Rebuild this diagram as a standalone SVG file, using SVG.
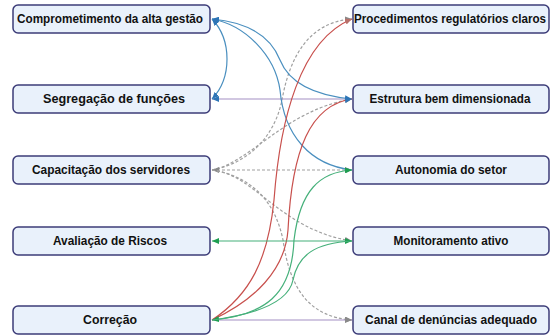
<svg xmlns="http://www.w3.org/2000/svg" width="554" height="335" viewBox="0 0 554 335">
<style>
.box{fill:#E9F1FB;stroke:#3C3C78;stroke-width:1.5}
.lbl{font-family:"Liberation Sans",Arial,sans-serif;font-size:12px;font-weight:bold;fill:#111;text-anchor:middle}
.c{fill:none;stroke-width:1.2}
.blue{stroke:#4A8FBF}
.red{stroke:#C8504D}
.green{stroke:#45B07A}
.purple{stroke:#A48FC4}
.gray{stroke:#A0A0A0;stroke-dasharray:3 2}
</style>
<defs>
<marker id="ab" markerUnits="userSpaceOnUse" markerWidth="8" markerHeight="6" refX="7" refY="3" orient="auto-start-reverse"><path d="M0,0 L7,3 L0,6 z" fill="#2E75B6"/></marker>
<marker id="ar" markerUnits="userSpaceOnUse" markerWidth="8" markerHeight="6" refX="7" refY="3" orient="auto-start-reverse"><path d="M0,0 L7,3 L0,6 z" fill="#B8706A"/></marker>
<marker id="ag" markerUnits="userSpaceOnUse" markerWidth="8" markerHeight="6" refX="7" refY="3" orient="auto-start-reverse"><path d="M0,0 L7,3 L0,6 z" fill="#1E9E50"/></marker>
<marker id="ay" markerUnits="userSpaceOnUse" markerWidth="8" markerHeight="6" refX="7" refY="3" orient="auto-start-reverse"><path d="M0,0 L7,3 L0,6 z" fill="#8A8A8A"/></marker>
</defs>
<g id="connectors">
<path class="c gray" d="M212,170 C250,163 275,135 282,100 C290,55 310,22 352,19" marker-end="url(#ay)"/>
<path class="c gray" d="M212,170 C250,163 285,110 352,99" marker-end="url(#ay)"/>
<path class="c gray" d="M212,170 L352,170" marker-start="url(#ay)" marker-end="url(#ay)"/>
<path class="c gray" d="M212,170 C255,174 280,230 352,241" marker-end="url(#ay)"/>
<path class="c gray" d="M212,170 C250,176 275,200 283,240 C290,290 310,317 352,320" marker-end="url(#ay)"/>
<path class="c purple" d="M352,99 L212,99" marker-end="url(#ab)"/>
<path class="c purple" d="M212,320 L352,320" marker-end="url(#ay)"/>
<path class="c blue" d="M212,19 C232,40 232,78 212,99" marker-start="url(#ab)" marker-end="url(#ab)"/>
<path class="c blue" d="M212,19 C245,22 270,35 280,60 C288,80 310,95 352,99" marker-start="url(#ab)" marker-end="url(#ab)"/>
<path class="c blue" d="M212,19 C245,25 275,55 280,90 C284,135 310,165 352,170" marker-start="url(#ab)"/>
<path class="c red" d="M212,320 C250,295 268,260 274,200 C280,120 300,40 352,19" marker-end="url(#ar)"/>
<path class="c red" d="M212,320 C255,300 285,270 288,230 C292,150 310,105 352,99" marker-end="url(#ab)"/>
<path class="c green" d="M212,241 L352,241" marker-start="url(#ag)" marker-end="url(#ag)"/>
<path class="c green" d="M352,241 C315,243 298,255 293,280 C288,305 250,315 212,320" marker-end="url(#ag)"/>
<path class="c green" d="M212,320 C265,315 292,295 294,240 C300,190 320,172 352,170" marker-end="url(#ag)"/>
</g>
<g id="n1"><rect class="box" x="13" y="5" width="197" height="28" rx="5"/><text class="lbl" x="110" y="23" textLength="186" lengthAdjust="spacingAndGlyphs">Comprometimento da alta gestão</text></g>
<g id="n2"><rect class="box" x="13" y="85" width="197" height="28" rx="5"/><text class="lbl" x="114" y="103" textLength="142" lengthAdjust="spacingAndGlyphs">Segregação de funções</text></g>
<g id="n3"><rect class="box" x="13" y="156" width="197" height="28" rx="5"/><text class="lbl" x="111" y="174" textLength="158" lengthAdjust="spacingAndGlyphs">Capacitação dos servidores</text></g>
<g id="n4"><rect class="box" x="13" y="227" width="197" height="28" rx="5"/><text class="lbl" x="110" y="245" textLength="114" lengthAdjust="spacingAndGlyphs">Avaliação de Riscos</text></g>
<g id="n5"><rect class="box" x="13" y="306" width="197" height="28" rx="5"/><text class="lbl" x="110" y="324" textLength="54" lengthAdjust="spacingAndGlyphs">Correção</text></g>
<g id="n6"><rect class="box" x="353" y="5" width="196" height="28" rx="5"/><text class="lbl" x="450" y="23" textLength="192" lengthAdjust="spacingAndGlyphs">Procedimentos regulatórios claros</text></g>
<g id="n7"><rect class="box" x="353" y="85" width="196" height="28" rx="5"/><text class="lbl" x="450" y="103" textLength="161" lengthAdjust="spacingAndGlyphs">Estrutura bem dimensionada</text></g>
<g id="n8"><rect class="box" x="353" y="156" width="196" height="28" rx="5"/><text class="lbl" x="451" y="174" textLength="112" lengthAdjust="spacingAndGlyphs">Autonomia do setor</text></g>
<g id="n9"><rect class="box" x="353" y="227" width="196" height="28" rx="5"/><text class="lbl" x="451" y="245" textLength="115" lengthAdjust="spacingAndGlyphs">Monitoramento ativo</text></g>
<g id="n10"><rect class="box" x="353" y="306" width="196" height="28" rx="5"/><text class="lbl" x="451" y="324" textLength="172" lengthAdjust="spacingAndGlyphs">Canal de denúncias adequado</text></g>
</svg>
